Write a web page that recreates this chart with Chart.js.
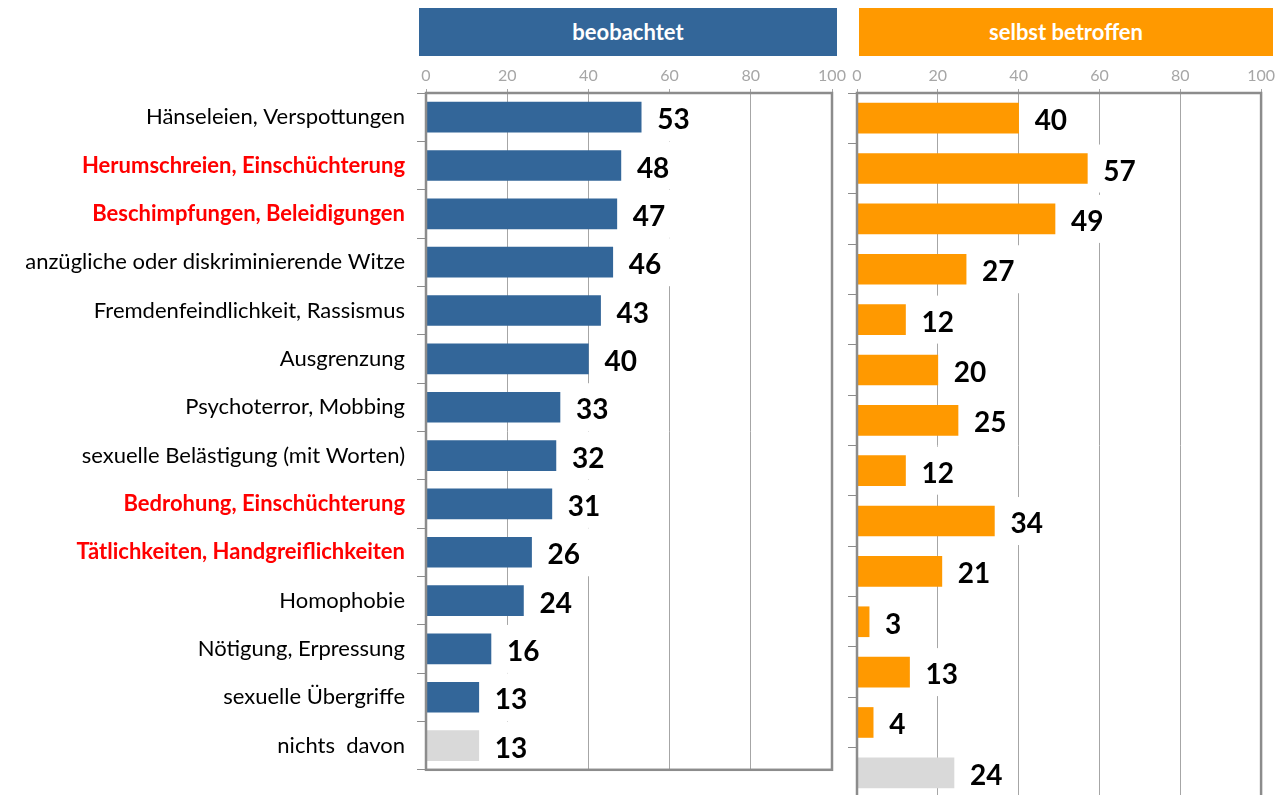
<!DOCTYPE html>
<html>
<head>
<meta charset="utf-8">
<script src="https://cdn.jsdelivr.net/npm/chart.js@4"></script>
<style>
  html, body { margin: 0; padding: 0; background: #fff; overflow: hidden; width: 1279px; height: 795px; }
  .head { position: absolute; color: #fff; font: bold 22px Lato, sans-serif; text-align: center; line-height: 48px; }
  #h1 { left: 419px; top: 8px; width: 418px; height: 48px; background: #336699; }
  #h2 { left: 859px; top: 8px; width: 414px; height: 48px; background: #ff9900; }
  #c1 { position: absolute; left: 0; top: 0; }
  #c2 { position: absolute; left: 840px; top: 0; }
</style>
</head>
<body>
<div class="head" id="h1">beobachtet</div>
<div class="head" id="h2">selbst betroffen</div>
<canvas id="c1" width="852" height="795"></canvas>
<canvas id="c2" width="439" height="805"></canvas>
<script>
// Kategorien
const kategorien = [
  'Hänseleien, Verspottungen',
  'Herumschreien, Einschüchterung',
  'Beschimpfungen, Beleidigungen',
  'anzügliche oder diskriminierende Witze',
  'Fremdenfeindlichkeit, Rassismus',
  'Ausgrenzung',
  'Psychoterror, Mobbing',
  'sexuelle Belästigung (mit Worten)',
  'Bedrohung, Einschüchterung',
  'Tätlichkeiten, Handgreiflichkeiten',
  'Homophobie',
  'Nötigung, Erpressung',
  'sexuelle Übergriffe',
  'nichts  davon'
];
// rot hervorgehobene Kategorien
const hervorgehoben = [1, 2, 8, 9];

// Werte in %
const beobachtet = [53, 48, 47, 46, 43, 40, 33, 32, 31, 26, 24, 16, 13, 13];
const selbstBetroffen = [40, 57, 49, 27, 12, 20, 25, 12, 34, 21, 3, 13, 4, 24];

const xTicks = [0, 20, 40, 60, 80, 100];

Chart.defaults.font.family = 'Lato, sans-serif';
Chart.defaults.animation = false;

function farben(basis) {
  return kategorien.map((k, i) => i === kategorien.length - 1 ? '#d9d9d9' : basis);
}

// Wertebeschriftung rechts neben den Balken, mit weißem Hintergrund
const wertePlugin = {
  id: 'werte',
  afterDatasetsDraw(chart) {
    const ctx = chart.ctx;
    const meta = chart.getDatasetMeta(0);
    const werte = chart.data.datasets[0].data;
    ctx.save();
    ctx.font = 'bold 28px Lato, sans-serif';
    ctx.textBaseline = 'middle';
    meta.data.forEach((bar, i) => {
      const txt = String(werte[i]);
      const w = ctx.measureText(txt).width;
      const x = bar.x + 16;
      ctx.fillStyle = '#fff';
      ctx.fillRect(bar.x + 8, bar.y - 24, w + 18, 48);
      ctx.fillStyle = '#000';
      ctx.fillText(txt, x, bar.y + 3);
    });
    ctx.restore();
  }
};

// Rahmen um die Zeichenfläche
const rahmenPlugin = {
  id: 'rahmen',
  afterDraw(chart) {
    const a = chart.chartArea;
    const ctx = chart.ctx;
    ctx.save();
    ctx.strokeStyle = '#8c8c8c';
    ctx.lineWidth = 2.5;
    ctx.strokeRect(a.left, a.top, a.right - a.left, a.bottom - a.top);
    ctx.restore();
  }
};

function optionen(yBreite, zeigeLabels, padding) {
  return {
    indexAxis: 'y',
    responsive: false,
    layout: { padding: padding },
    plugins: { legend: { display: false }, tooltip: { enabled: false } },
    scales: {
      x: {
        position: 'top',
        min: 0,
        max: 100,
        afterBuildTicks: s => { s.ticks = xTicks.map(v => ({ value: v })); },
        afterFit: s => { s.height = 93; },
        grid: { color: '#a6a6a6', lineWidth: 1, tickLength: 4, drawTicks: true },
        border: { display: false },
        ticks: { color: '#a6a6a6', font: { size: 16 }, padding: 4 }
      },
      y: {
        afterFit: s => { s.width = yBreite; },
        grid: { drawOnChartArea: false, tickLength: 9, color: '#8c8c8c', offset: true },
        border: { display: false },
        ticks: {
          display: zeigeLabels,
          padding: 12,
          autoSkip: false,
          color: c => hervorgehoben.includes(c.index) ? '#ff0000' : '#000',
          font: c => ({ size: 22, weight: hervorgehoben.includes(c.index) ? 'bold' : 'normal' })
        }
      }
    }
  };
}

new Chart(document.getElementById('c1').getContext('2d'), {
  type: 'bar',
  data: {
    labels: kategorien,
    datasets: [{ data: beobachtet, backgroundColor: farben('#336699'), barThickness: 30 }]
  },
  options: optionen(426, true, { left: 0, right: 20, top: 0, bottom: 11 }),
  plugins: [wertePlugin, rahmenPlugin]
});

new Chart(document.getElementById('c2').getContext('2d'), {
  type: 'bar',
  data: {
    labels: kategorien,
    datasets: [{ data: selbstBetroffen, backgroundColor: farben('#ff9900'), barThickness: 30 }]
  },
  options: optionen(17, false, { left: 0, right: 16, top: 0, bottom: 7 }),
  plugins: [wertePlugin, rahmenPlugin]
});
</script>
</body>
</html>
